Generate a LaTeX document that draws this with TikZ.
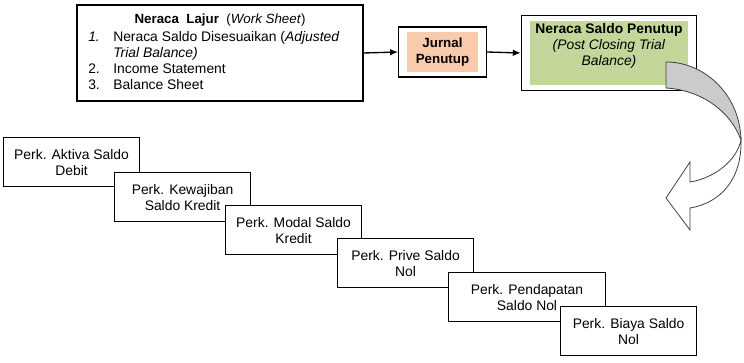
\documentclass[tikz,border=0pt]{standalone}
\usepackage{fontspec}
\setmainfont{Liberation Sans}
\usepackage{tikz}
\usetikzlibrary{fit, arrows.meta}

\definecolor{peach}{HTML}{F8CBAD}
\definecolor{hijau}{HTML}{C4D79B}
\definecolor{abu}{HTML}{CBCBCB}

\tikzset{
  kotak/.style={draw, fill=white, line width=1pt},
  perk/.style={draw, fill=white, line width=0.8pt, align=center, anchor=north west,
    minimum width=102pt, minimum height=37pt, inner sep=2pt},
  panah/.style={line width=1pt, -{Latex[length=6pt, width=5pt]}},
}

\begin{document}
\begin{tikzpicture}[x=0.75pt, y=-0.75pt, font=\fontsize{10.4}{11.8}\selectfont]
      \useasboundingbox (0,0) rectangle (744,363);
      % baris atas
      \node[kotak, minimum width=214.5pt, minimum height=72pt] (lajur) at (220,53) {};
      \node[font=\bfseries] (lajurjudul) at (220,20) {Neraca\ \ Lajur\ \ \mdseries(\textit{Work Sheet})};
      \node[anchor=north west, inner sep=0pt, font=\fontsize{10.4}{12}\selectfont] (lajurdaftar) at (88,30) {%
        \begin{tabular}{@{}p{18.75pt}@{}l@{}}
          \textit{1.} & Neraca Saldo Disesuaikan (\textit{Adjusted}\\
                      & \textit{Trial Balance)}\\
          2.          & Income Statement\\
          3.          & Balance Sheet
        \end{tabular}};
      \node[fill=peach, font=\bfseries, align=center, minimum width=53.25pt, minimum height=30pt,
        inner sep=1pt] (jurnal) at (442.5,52) {Jurnal\\Penutup};
      \node[draw, line width=1pt, inner xsep=6pt, inner ysep=3.6pt, fit=(jurnal)] (jurnalbox) {};
      \node[fill=hijau, minimum width=118.5pt, minimum height=48pt] (saldo) at (609,53) {};
      \node[draw, line width=1pt, inner xsep=6.2pt, inner ysep=3.7pt, fit=(saldo)] (saldobox) {};
      \node[anchor=north, align=center, inner sep=1pt, font=\fontsize{10.4}{12}\selectfont] (saldoteks) at (609,22)
        {\textbf{Neraca Saldo Penutup}\\\textit{(Post Closing Trial}\\\textit{Balance)}};
      \draw[panah] (lajur.east) -- (jurnalbox.west);
      \draw[panah] (jurnalbox.east) -- (saldobox.west);
      % panah lengkung
      \filldraw[fill=abu, draw=black!75, line width=0.6pt]
        (666,62) .. controls (705,62) and (740,95) .. (741,140)
        .. controls (730,110) and (700,90) .. (666,88) -- cycle;
      \filldraw[fill=white, draw=black!75, line width=0.6pt]
        (741,140) .. controls (742,180) and (720,203) .. (690,208)
        -- (690,230) -- (666,198) -- (690,162) -- (690,182)
        .. controls (715,178) and (737,160) .. (741,140) -- cycle;
      % tangga perkiraan
      \node[perk] (aktiva) at (3,137) {Perk. Aktiva Saldo\\Debit};
      \node[perk] (kewajiban) at (114,172) {Perk. Kewajiban\\Saldo Kredit};
      \node[perk] (modal) at (225,205) {Perk. Modal Saldo\\Kredit};
      \node[perk] (prive) at (337,238) {Perk. Prive Saldo\\Nol};
      \node[perk, minimum width=117.75pt] (pendapatan) at (448,272) {Perk. Pendapatan\\Saldo Nol};
      \node[perk] (biaya) at (560,306) {Perk. Biaya Saldo\\Nol};
    \end{tikzpicture}
\end{document}
